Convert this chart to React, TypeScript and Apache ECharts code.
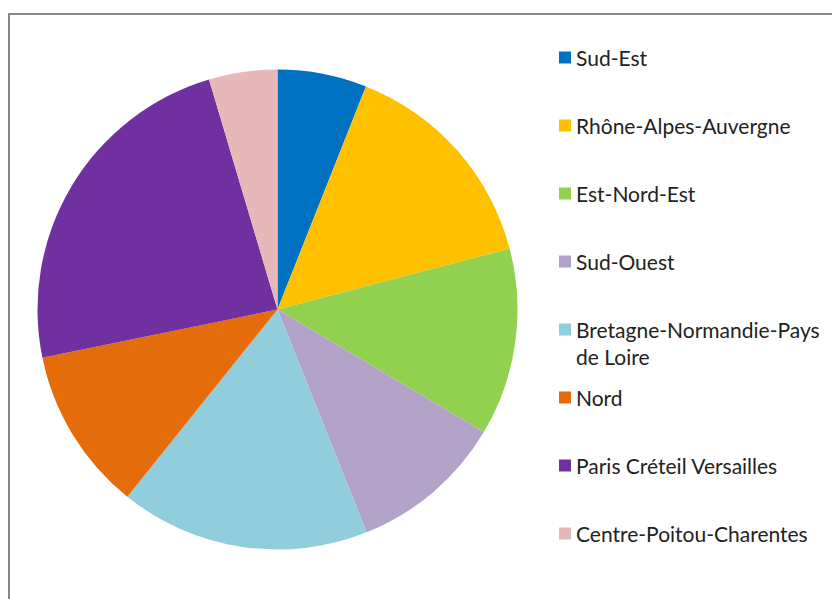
import React, { useEffect, useRef } from "react";
import * as echarts from "echarts";

const categories = [
  "Sud-Est",
  "Rhône-Alpes-Auvergne",
  "Est-Nord-Est",
  "Sud-Ouest",
  "Bretagne-Normandie-Pays de Loire",
  "Nord",
  "Paris Créteil Versailles",
  "Centre-Poitou-Charentes",
];
const legendLabels = [
  "Sud-Est",
  "Rhône-Alpes-Auvergne",
  "Est-Nord-Est",
  "Sud-Ouest",
  "Bretagne-Normandie-Pays\nde Loire",
  "Nord",
  "Paris Créteil Versailles",
  "Centre-Poitou-Charentes",
];
const values = [6.0, 14.9, 12.6, 10.4, 16.8, 11.0, 23.6, 4.6];
const colors = ["#0070C0", "#FFC000", "#92D050", "#B2A2C7", "#92CDDC", "#E46C0A", "#7030A0", "#E6B9B8"];

export default function App() {
  const ref = useRef<HTMLDivElement>(null);
  useEffect(() => {
    if (!ref.current) return;
    const chart = echarts.init(ref.current, undefined, { renderer: "svg" });
    const font = "Lato, 'Open Sans', sans-serif";
    const legends = categories.map((name, i) => {
      const multi = legendLabels[i].includes("\n");
      return {
        orient: "vertical",
        left: 559,
        top: 58 + i * 68 - 14 - (multi ? 27 : 0),
        data: [name],
        itemWidth: 12,
        itemHeight: 12,
        itemGap: 0,
        padding: 0,
        icon: "rect",
        selectedMode: false,
        formatter: () => (multi ? " \n" + legendLabels[i] : legendLabels[i]),
        textStyle: {
          fontFamily: font,
          fontSize: 21,
          color: "#222222",
          lineHeight: 27,
        },
      };
    });
    chart.setOption({
      animation: false,
      color: colors,
      legend: legends,
      graphic: [
        {
          type: "rect",
          shape: { x: 9, y: 14, width: 900, height: 700 },
          style: { fill: "none", stroke: "#878787", lineWidth: 2 },
          z: -1,
        },
      ],
      series: [
        {
          type: "pie",
          center: [277.5, 309.5],
          radius: 240,
          startAngle: 90,
          clockwise: true,
          label: { show: false },
          labelLine: { show: false },
          emphasis: { disabled: true },
          itemStyle: { borderWidth: 0 },
          data: categories.map((name, i) => ({ name, value: values[i] })),
        },
      ],
    });
    return () => chart.dispose();
  }, []);
  return (
    <div style={{ position: "absolute", left: 0, top: 0, width: 832, height: 599, background: "#fff" }}>
      <div ref={ref} style={{ width: 832, height: 599 }} />
    </div>
  );
}
